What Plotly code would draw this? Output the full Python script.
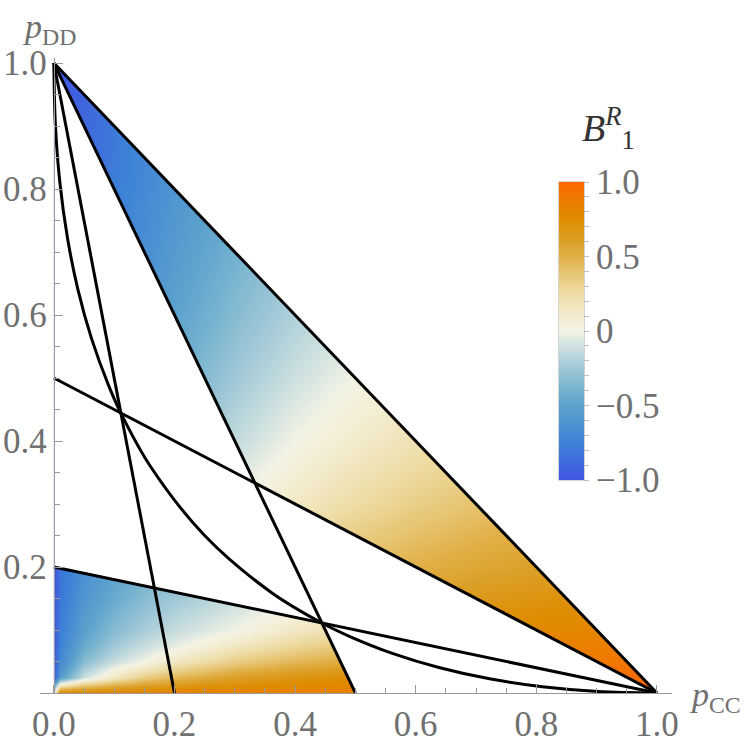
import plotly.graph_objects as go

# ---------------- data ----------------
# straight boundary lines (start / end points)
line_x0 = [0.0, 0.0, 0.0, 0.0, 0.0]
line_y0 = [1.0, 1.0, 1.0, 0.5, 0.2]
line_x1 = [1.0, 0.5, 0.2, 1.0, 1.0]
line_y1 = [0.0, 0.0, 0.0, 0.0, 0.0]

# curved boundary (from (0,1) to (1,0))
curve_x = [0.0, 0.0025, 0.01, 0.0225, 0.04, 0.0625, 0.09, 0.1111, 0.16, 0.25,
           0.36, 0.4444, 0.49, 0.5625, 0.64, 0.7225, 0.81, 0.9025, 1.0]
curve_y = [1.0, 0.9025, 0.81, 0.7225, 0.64, 0.5625, 0.49, 0.4444, 0.36, 0.25,
           0.16, 0.1111, 0.09, 0.0625, 0.04, 0.0225, 0.01, 0.0025, 0.0]

# filled regions (vertices)
upper_region_x = [0.0, 1.0, 0.3333]
upper_region_y = [1.0, 0.0, 0.3333]
lower_region_x = [0.0, 0.0, 0.4444, 0.5]
lower_region_y = [0.0, 0.2, 0.1111, 0.0]

upper_grid_x = [0.0, 0.1, 0.2, 0.3, 0.4, 0.5, 0.6, 0.7, 0.8, 0.9, 1.0]
upper_grid_y = [0.0, 0.1, 0.2, 0.3, 0.4, 0.5, 0.6, 0.7, 0.8, 0.9, 1.0]
upper_z = [
    [0.0, 1.0, 1.0, 1.0, 1.0, 1.0, 1.0, 1.0, 1.0, 1.0, 1.0],
    [-1.0, 0.0, 0.333, 0.5, 0.6, 0.667, 0.714, 0.75, 0.778, 0.8, 0.818],
    [-1.0, -0.333, 0.0, 0.2, 0.333, 0.429, 0.5, 0.556, 0.6, 0.636, 0.667],
    [-1.0, -0.5, -0.2, 0.0, 0.143, 0.25, 0.333, 0.4, 0.455, 0.5, 0.538],
    [-1.0, -0.6, -0.333, -0.143, 0.0, 0.111, 0.2, 0.273, 0.333, 0.385, 0.429],
    [-1.0, -0.667, -0.429, -0.25, -0.111, 0.0, 0.091, 0.167, 0.231, 0.286, 0.333],
    [-1.0, -0.714, -0.5, -0.333, -0.2, -0.091, 0.0, 0.077, 0.143, 0.2, 0.25],
    [-1.0, -0.75, -0.556, -0.4, -0.273, -0.167, -0.077, 0.0, 0.067, 0.125, 0.176],
    [-1.0, -0.778, -0.6, -0.455, -0.333, -0.231, -0.143, -0.067, 0.0, 0.059, 0.111],
    [-1.0, -0.8, -0.636, -0.5, -0.385, -0.286, -0.2, -0.125, -0.059, 0.0, 0.053],
    [-1.0, -0.818, -0.667, -0.538, -0.429, -0.333, -0.25, -0.176, -0.111, -0.053, 0.0],
]

lower_grid_x = [0.0, 0.01, 0.05, 0.1, 0.15, 0.2, 0.3, 0.4, 0.5]
lower_grid_y = [0.0, 0.025, 0.05, 0.075, 0.1, 0.15, 0.2]
lower_z = [
    [0.0, 0.85, 0.85, 0.85, 0.85, 0.85, 0.85, 0.85, 0.85],
    [-1.0, -0.55, -0.12, 0.143, 0.333, 0.455, 0.6, 0.684, 0.739],
    [-1.0, -0.68, -0.33, -0.13, 0.0, 0.143, 0.333, 0.455, 0.538],
    [-1.0, -0.74, -0.44, -0.25, -0.13, -0.04, 0.143, 0.28, 0.379],
    [-1.0, -0.77, -0.51, -0.33, -0.22, -0.13, 0.0, 0.143, 0.25],
    [-1.0, -0.81, -0.59, -0.44, -0.33, -0.25, -0.13, -0.04, 0.053],
    [-1.0, -0.84, -0.64, -0.51, -0.41, -0.33, -0.22, -0.13, -0.06],
]

x_tick_vals = [0.0, 0.2, 0.4, 0.6, 0.8, 1.0]
x_tick_text = ["0.0", "0.2", "0.4", "0.6", "0.8", "1.0"]
y_tick_vals = [0.2, 0.4, 0.6, 0.8, 1.0]
y_tick_text = ["0.2", "0.4", "0.6", "0.8", "1.0"]
minor_vals = [0.05, 0.1, 0.15, 0.25, 0.3, 0.35, 0.45, 0.5, 0.55, 0.65, 0.7,
              0.75, 0.85, 0.9, 0.95]
cbar_major_vals = [-1.0, -0.5, 0.0, 0.5, 1.0]
cbar_major_text = ["\u22121.0", "\u22120.5", "0", "0.5", "1.0"]
cbar_minor_vals = [-1.0, -0.9, -0.8, -0.7, -0.6, -0.5, -0.4, -0.3, -0.2, -0.1, 0.0,
                   0.1, 0.2, 0.3, 0.4, 0.5, 0.6, 0.7, 0.8, 0.9, 1.0]

# ---------------- styling ----------------
FONT = "Liberation Serif"
GRAY_TXT = "#707070"
GRAY_LINE = "#9a9a9a"

colorscale = [
    [0.0, "rgb(65,85,225)"],
    [0.125, "rgb(60,130,215)"],
    [0.25, "rgb(92,162,205)"],
    [0.3, "rgb(115,177,207)"],
    [0.375, "rgb(160,200,215)"],
    [0.45, "rgb(208,226,224)"],
    [0.5, "rgb(243,243,228)"],
    [0.55, "rgb(243,236,208)"],
    [0.625, "rgb(238,220,165)"],
    [0.7, "rgb(230,195,110)"],
    [0.75, "rgb(225,175,70)"],
    [0.8, "rgb(220,160,40)"],
    [0.875, "rgb(222,140,0)"],
    [0.95, "rgb(240,120,0)"],
    [1.0, "rgb(255,102,0)"],
]

CB_POS = dict(x=0.821, xanchor="left", xpad=0, y=0.57, yanchor="middle", ypad=0,
              len=298, lenmode="pixels", thickness=25, thicknessmode="pixels")

fig = go.Figure()

fig.add_trace(go.Heatmap(
    x=upper_grid_x, y=upper_grid_y, z=upper_z, zsmooth="best",
    zmin=-1, zmax=1, colorscale=colorscale, hoverinfo="skip",
    colorbar=dict(
        **CB_POS,
        outlinewidth=1, outlinecolor="#aaaaaa",
        tickmode="array", tickvals=cbar_major_vals, ticktext=cbar_major_text,
        ticks="outside", ticklen=5, tickcolor="#bbbbbb",
        tickfont=dict(family=FONT, size=35, color=GRAY_TXT),
    ),
))
fig.add_trace(go.Heatmap(
    x=lower_grid_x, y=lower_grid_y, z=lower_z, zsmooth="best",
    zmin=-1, zmax=1, colorscale=colorscale, hoverinfo="skip",
    colorbar=dict(
        **CB_POS,
        outlinewidth=0,
        tickmode="array", tickvals=cbar_minor_vals,
        ticks="outside", ticklen=5, tickcolor="#bbbbbb",
        showticklabels=False,
    ),
))

# white masks outside the two filled regions
ux, uy, lx, ly = upper_region_x, upper_region_y, lower_region_x, lower_region_y
masks = [
    ([ux[0], ux[1], 1.3, 1.3, ux[0]], [uy[0], uy[1], uy[1], 1.3, 1.3]),
    ([-0.3, 0.0, 0.0, -0.3], [-0.3, -0.3, 1.3, 1.3]),
    ([ux[0], ux[2], ux[1], lx[3], lx[2], lx[1]],
     [uy[0], uy[2], uy[1], ly[3], ly[2], ly[1]]),
]
for mx, my in masks:
    fig.add_trace(go.Scatter(x=mx, y=my, mode="lines", fill="toself",
                             fillcolor="white", line=dict(width=0, color="white"),
                             hoverinfo="skip", showlegend=False))

for x0, y0, x1, y1 in zip(line_x0, line_y0, line_x1, line_y1):
    fig.add_trace(go.Scatter(x=[x0, x1], y=[y0, y1], mode="lines",
                             line=dict(color="black", width=3),
                             hoverinfo="skip", showlegend=False))
fig.add_trace(go.Scatter(x=curve_x, y=curve_y, mode="lines",
                         line=dict(color="black", width=3, shape="spline"),
                         hoverinfo="skip", showlegend=False))

x_lo, x_hi = -0.023, 1.025
fig.update_layout(
    width=747, height=750,
    margin=dict(l=40, r=75, t=58, b=57, autoexpand=False),
    plot_bgcolor="white", paper_bgcolor="white",
    showlegend=False,
    xaxis=dict(
        range=[x_lo, x_hi], showgrid=False, zeroline=False, automargin=False,
        showline=True, linecolor=GRAY_LINE, linewidth=1.3,
        ticks="inside", ticklen=8, tickcolor=GRAY_LINE, tickwidth=1.2,
        tickmode="array", tickvals=x_tick_vals, ticktext=x_tick_text,
        tickfont=dict(family=FONT, size=35, color=GRAY_TXT),
        minor=dict(tickmode="array", tickvals=minor_vals, ticks="inside",
                   ticklen=5, tickcolor=GRAY_LINE, tickwidth=1.1),
    ),
    yaxis=dict(
        range=[0, 1.008], showgrid=False, zeroline=False, automargin=False,
        anchor="free", position=(0 - x_lo) / (x_hi - x_lo),
        showline=True, linecolor=GRAY_LINE, linewidth=1.3,
        ticks="inside", ticklen=8, tickcolor=GRAY_LINE, tickwidth=1.2,
        tickmode="array", tickvals=y_tick_vals, ticktext=y_tick_text,
        tickfont=dict(family=FONT, size=35, color=GRAY_TXT),
        minor=dict(tickmode="array", tickvals=minor_vals, ticks="inside",
                   ticklen=5, tickcolor=GRAY_LINE, tickwidth=1.1),
    ),
    annotations=[
        dict(text="<i>p</i><sub>DD</sub>", xref="paper", yref="paper",
             x=-0.03, y=1.045, xanchor="left", yanchor="middle", showarrow=False,
             font=dict(family=FONT, size=34, color=GRAY_TXT)),
        dict(text="<i>p</i><sub>CC</sub>", xref="paper", yref="paper",
             x=1.025, y=-0.006, xanchor="left", yanchor="middle", showarrow=False,
             font=dict(family=FONT, size=34, color=GRAY_TXT)),
        dict(text="<i>B</i><sup><i>R</i></sup><sub>1</sub>", xref="paper", yref="paper",
             x=0.9, y=0.89, xanchor="center", yanchor="middle", showarrow=False,
             font=dict(family=FONT, size=38, color="#333333")),
    ],
)

fig.write_html("out.html", config={"displayModeBar": False},
               post_script="document.body.style.margin='0';")
